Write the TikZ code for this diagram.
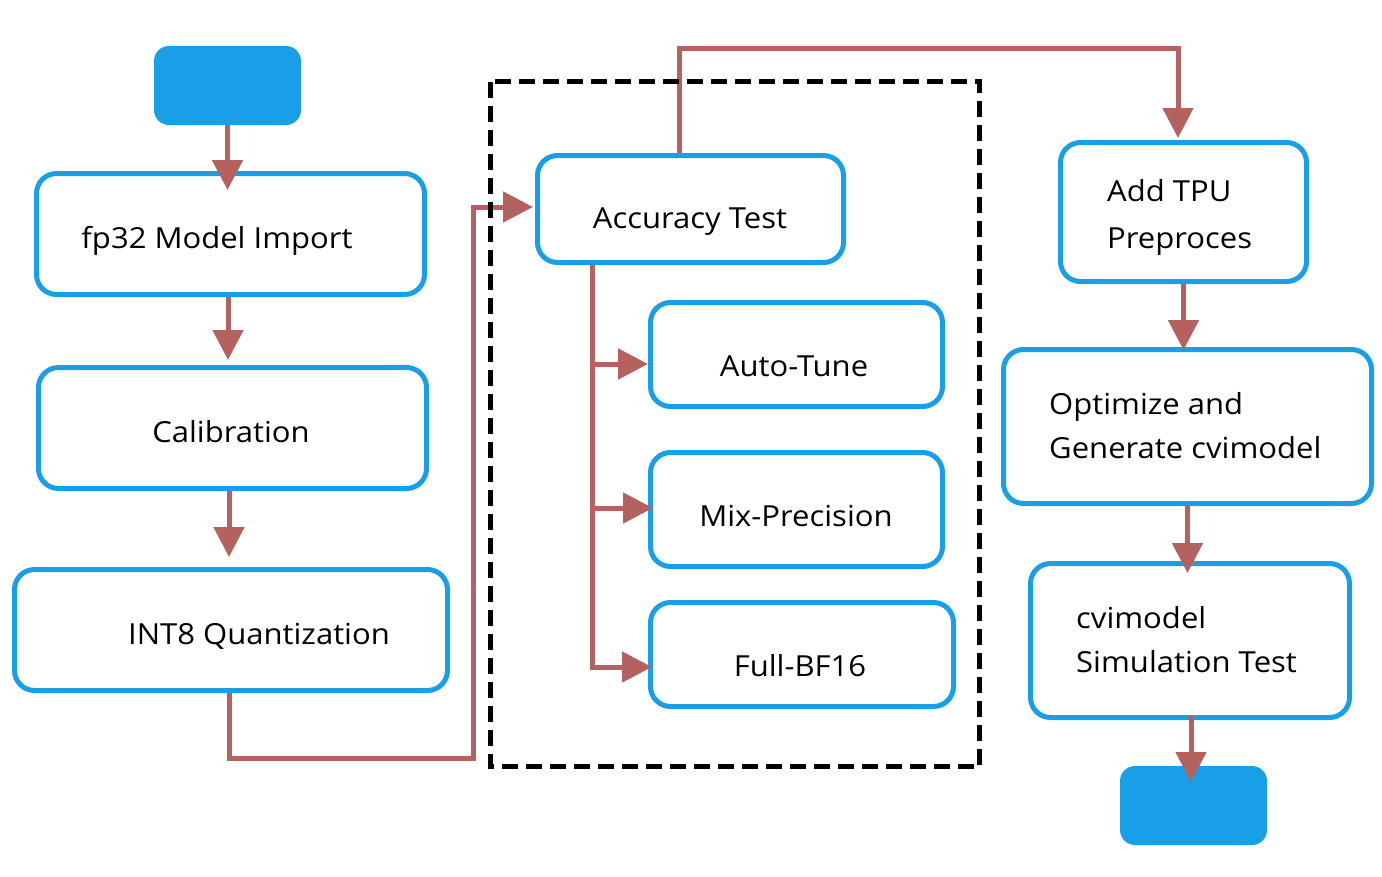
\documentclass[tikz,border=0pt]{standalone}
\usepackage{fontspec}
\setmainfont{Open Sans}[FakeStretch=1.07]
\usetikzlibrary{arrows.meta,calc}
\definecolor{boxblue}{HTML}{189FE8}
\definecolor{arrred}{HTML}{B5615F}
\begin{document}
\begin{tikzpicture}[x=1pt,y=-1pt,
  stepbox/.style={draw=boxblue, line width=5pt, rounded corners=20pt, inner sep=0pt, fill=white},
  termbox/.style={fill=boxblue, rounded corners=15pt, inner sep=0pt, outer sep=0pt},
  lbl/.style={font=\fontsize{29}{34}\selectfont, inner sep=0pt},
  arr/.style={draw=arrred, line width=5pt, -{Triangle[width=30pt,length=30pt]}},
  conn/.style={draw=arrred, line width=5pt}]
\useasboundingbox (0,0) rectangle (1382,876);

% boxes
\node[termbox, minimum width=147pt, minimum height=79pt] (start) at (227.5,85.5) {};
\node[stepbox, minimum width=388pt, minimum height=121pt] (fp32) at (230.5,234) {};
\node[stepbox, minimum width=388pt, minimum height=121pt] (calib) at (232.5,428) {};
\node[stepbox, minimum width=433pt, minimum height=121pt] (int8) at (231,630) {};
\node[stepbox, minimum width=306pt, minimum height=107pt] (acc) at (690.5,209) {};
\node[stepbox, minimum width=292pt, minimum height=104pt] (auto) at (796.5,354.5) {};
\node[stepbox, minimum width=292pt, minimum height=114pt] (mix) at (796.5,509.5) {};
\node[stepbox, minimum width=303pt, minimum height=104pt] (full) at (802,654.5) {};
\node[stepbox, minimum width=246pt, minimum height=139pt] (tpu) at (1183.5,212) {};
\node[stepbox, minimum width=368pt, minimum height=154pt] (opt) at (1187.5,426.5) {};
\node[stepbox, minimum width=319pt, minimum height=154pt] (cvi) at (1190,640.5) {};
\node[termbox, minimum width=147pt, minimum height=79pt] (fin) at (1193.5,805.5) {};

% texts
\node[lbl, anchor=base] (t1) at (217,248) {fp32 Model Import};
\node[lbl, anchor=base] (t2) at (231,442) {Calibration};
\node[lbl, anchor=base] (t3) at (259,644) {INT8 Quantization};
\node[lbl, anchor=base] (t4) at (690,228) {Accuracy Test};
\node[lbl, anchor=base] (t5) at (794,376) {Auto-Tune};
\node[lbl, anchor=base] (t6) at (796,526) {Mix-Precision};
\node[lbl, anchor=base] (t7) at (800,676) {Full-BF16};
\node[lbl, anchor=base west] (t8a) at (1107,201) {Add TPU};
\node[lbl, anchor=base west] (t8b) at (1107,248) {Preproces};
\node[lbl, anchor=base west] (t9a) at (1049,414) {Optimize and};
\node[lbl, anchor=base west] (t9b) at (1049,458) {Generate cvimodel};
\node[lbl, anchor=base west] (t10a) at (1076,628) {cvimodel};
\node[lbl, anchor=base west] (t10b) at (1076,672) {Simulation Test};

% helper coordinates
\coordinate (lx) at (228,0);
\coordinate (lx2) at (229,0);
\coordinate (c1) at (473,758);
\coordinate (bx) at (592,0);
\coordinate (c2) at (679,48);
\coordinate (c3) at (1178,48);

% connectors
\draw[arr] (start.south) -- ($(start.south |- fp32.north)+(0,19)$);
\draw[arr] (fp32.south -| lx) -- ($(calib.north -| lx)+(0,-5)$);
\draw[arr] (calib.south -| lx2) -- ($(int8.north -| lx2)+(0,-10)$);
\draw[arr] (int8.south -| lx2) |- (c1) |- ($(acc.west)+(-2,-2)$);
\draw[arr] (acc.south -| bx) |- ($(full.west)+(4,12.5)$);
\draw[arr] ($(auto.west -| bx)+(0,9.5)$) -- ($(auto.west)+(0,9.5)$);
\draw[arr] ($(mix.west -| bx)+(2,-1.5)$) -- ($(mix.west)+(5,-1.5)$);
\draw[arr] (acc.north -| c2) -- (c2) -- (c3) -- ($(c3 |- tpu.north)+(0,-2)$);
\draw[arr] (tpu.south) -- ($(tpu.south |- opt.north)+(0,3)$);
\draw[arr] (opt.south) -- ($(opt.south |- cvi.north)+(0,12)$);
\draw[arr] ($(cvi.south)+(1,-5)$) -- ($(cvi.south |- fin.north)+(1,16)$);

% dashed group
\draw[black, line width=5pt, dash pattern=on 16pt off 8pt] (490.5,81.5) rectangle (979.5,766.5);
\end{tikzpicture}
\end{document}
